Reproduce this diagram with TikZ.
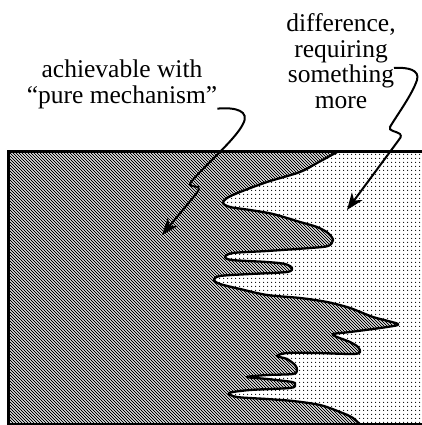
\documentclass[tikz,border=0pt]{standalone}
\usepackage{fontspec}
\setmainfont{Liberation Serif}
\usetikzlibrary{arrows.meta,patterns.meta}

\newcommand\rimpath{(8.5,151.5) -- (338,151.5)
  -- plot[smooth, tension=.5] coordinates {
    (338,151.5) (317,163) (300,172) (267,182) (240,192) (227,198)
    (223,203) (230,207) (250,210) (273,214) (300,222) (317,227)
    (328,233) (333,240) (328,246) (310,248) (267,251) (233,253)
    (225,257) (232,260) (267,262) (285,264) (292,268) (287,272)
    (250,274) (220,276) (214,280) (220,284) (240,289) (267,295)
    (300,298) (327,302) (350,308) (373,317) (398,324) (387,327)
    (350,332) (333,334) (337,337) (350,342) (358,347) (360,352)
    (353,354) (317,353) (287,353) (277,356) (287,359) (295,365)
    (297,370) (293,374) (267,375) (247,377) (267,379) (292,382)
    (295,385) (290,388) (250,390) (229,393) (237,397) (267,399)
    (293,401) (320,405) (340,412) (353,418) (362,427)}
  -- (8.5,427) -- cycle}

\begin{document}
\begin{tikzpicture}[x=1pt, y=-1pt,
  caption/.style={align=center, inner sep=0pt,
                  font=\fontsize{25.5}{25.5}\selectfont},
  frame/.style={line width=3.3pt},
  remainder/.style={preaction={fill=white},
                    pattern={Dots[distance=4pt, radius=.7pt]}},
  hatch/.style={line width=.95pt},
  boundary/.style={line width=2.3pt, line join=round},
  pointer/.style={-{Stealth[length=17pt, width=13pt, inset=5pt]},
                  line width=2pt}
]
\useasboundingbox (0,0) rectangle (422,425);
\clip (0,0) rectangle (422,425);

\fill[remainder] (8.5,151.5) rectangle (430,426);
\begin{scope}
  \clip \rimpath;
  \fill[white] (0,140) rectangle (430,430);
  \foreach \c in {-420,-417,...,420}
    \draw[hatch] (\c,140) -- ++(300,300);
\end{scope}
\draw[boundary] \rimpath;
\draw[frame] (8.5,424.5) -- (8.5,151.5) -- (430,151.5);
\draw[frame] (8.5,424.5) -- (430,424.5);

\node[caption, anchor=base] (mech) at (122,103)
  {achievable with\\“pure mechanism”};
\node[caption, anchor=base] (diff) at (341,108)
  {difference,\\requiring\\something\\more};

\coordinate (mechtip) at (162,235);
\coordinate (diffhook) at (394,68);
\coordinate (difftip) at (347,210);

\draw[pointer] (mech.south east) .. controls (236,107) and (250,111) .. (243,124)
  .. controls (235,140) and (205,165) .. (191,182)
  .. controls (188,186) and (192,186) .. (198,187)
  .. controls (200,188) and (199,190) .. (196,194) -- (mechtip);
\draw[pointer] (diffhook) .. controls (408,67) and (420,70) .. (417,80)
  .. controls (412,95) and (397,115) .. (390,127)
  .. controls (388,131) and (396,131) .. (400,134)
  .. controls (402,136) and (400,139) .. (398,141) -- (difftip);
\end{tikzpicture}
\end{document}
